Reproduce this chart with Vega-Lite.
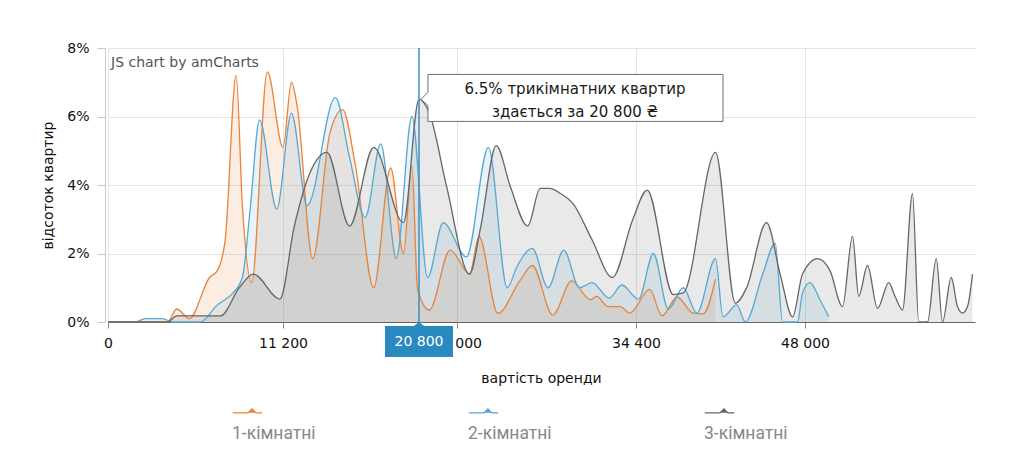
{
  "$schema": "https://vega.github.io/schema/vega-lite/v6.json",
  "width": 872,
  "height": 274,
  "autosize": {"type": "none"},
  "padding": {"left": 105, "top": 48, "right": 32, "bottom": 149},
  "background": "white",
  "config": {
    "view": {"stroke": null},
    "axis": {
      "labelFont": "DejaVu Sans",
      "labelFontSize": 14,
      "labelColor": "#111",
      "titleFont": "DejaVu Sans",
      "titleFontSize": 14,
      "titleFontWeight": "normal",
      "titleColor": "#111",
      "gridColor": "#e4e4e4",
      "gridWidth": 1
    }
  },
  "datasets": {
    "series": [
      {"rooms": "1-кімнатні", "price": 0, "share": 0},
      {"rooms": "1-кімнатні", "price": 3800, "share": 0},
      {"rooms": "1-кімнатні", "price": 4400, "share": 0.38},
      {"rooms": "1-кімнатні", "price": 5200, "share": 0.1},
      {"rooms": "1-кімнатні", "price": 6500, "share": 1.3},
      {"rooms": "1-кімнатні", "price": 7000, "share": 1.5},
      {"rooms": "1-кімнатні", "price": 7500, "share": 2.4},
      {"rooms": "1-кімнатні", "price": 8200, "share": 7.2},
      {"rooms": "1-кімнатні", "price": 8600, "share": 3.4},
      {"rooms": "1-кімнатні", "price": 9200, "share": 1.15},
      {"rooms": "1-кімнатні", "price": 10200, "share": 7.3},
      {"rooms": "1-кімнатні", "price": 11200, "share": 5.1},
      {"rooms": "1-кімнатні", "price": 11800, "share": 7.0},
      {"rooms": "1-кімнатні", "price": 12200, "share": 6.3},
      {"rooms": "1-кімнатні", "price": 13300, "share": 1.85},
      {"rooms": "1-кімнатні", "price": 14500, "share": 5.5},
      {"rooms": "1-кімнатні", "price": 15400, "share": 6.2},
      {"rooms": "1-кімнатні", "price": 16300, "share": 4.6},
      {"rooms": "1-кімнатні", "price": 17600, "share": 1.0},
      {"rooms": "1-кімнатні", "price": 18800, "share": 4.5},
      {"rooms": "1-кімнатні", "price": 19700, "share": 2.0},
      {"rooms": "1-кімнатні", "price": 20300, "share": 4.55},
      {"rooms": "1-кімнатні", "price": 20700, "share": 0.95},
      {"rooms": "1-кімнатні", "price": 21400, "share": 0.35},
      {"rooms": "1-кімнатні", "price": 22600, "share": 2.1},
      {"rooms": "1-кімнатні", "price": 23800, "share": 1.4},
      {"rooms": "1-кімнатні", "price": 24400, "share": 2.5},
      {"rooms": "1-кімнатні", "price": 25600, "share": 0.25},
      {"rooms": "1-кімнатні", "price": 27000, "share": 1.2},
      {"rooms": "1-кімнатні", "price": 27800, "share": 1.65},
      {"rooms": "1-кімнатні", "price": 29100, "share": 0.2},
      {"rooms": "1-кімнатні", "price": 30300, "share": 1.2},
      {"rooms": "1-кімнатні", "price": 31500, "share": 0.65},
      {"rooms": "1-кімнатні", "price": 31900, "share": 0.75},
      {"rooms": "1-кімнатні", "price": 32600, "share": 0.45},
      {"rooms": "1-кімнатні", "price": 33400, "share": 0.45},
      {"rooms": "1-кімнатні", "price": 34000, "share": 0.26},
      {"rooms": "1-кімнатні", "price": 35500, "share": 0.95},
      {"rooms": "1-кімнатні", "price": 36500, "share": 0.18},
      {"rooms": "1-кімнатні", "price": 37700, "share": 0.73},
      {"rooms": "1-кімнатні", "price": 39000, "share": 0.26},
      {"rooms": "1-кімнатні", "price": 39800, "share": 0.24},
      {"rooms": "1-кімнатні", "price": 40800, "share": 1.25},

      {"rooms": "2-кімнатні", "price": 0, "share": 0},
      {"rooms": "2-кімнатні", "price": 1700, "share": 0},
      {"rooms": "2-кімнатні", "price": 2400, "share": 0.1},
      {"rooms": "2-кімнатні", "price": 3500, "share": 0.1},
      {"rooms": "2-кімнатні", "price": 4100, "share": 0},
      {"rooms": "2-кімнатні", "price": 5900, "share": 0},
      {"rooms": "2-кімнатні", "price": 7000, "share": 0.5},
      {"rooms": "2-кімнатні", "price": 8000, "share": 0.85},
      {"rooms": "2-кімнатні", "price": 8600, "share": 1.3},
      {"rooms": "2-кімнатні", "price": 9100, "share": 3.3},
      {"rooms": "2-кімнатні", "price": 9700, "share": 5.9},
      {"rooms": "2-кімнатні", "price": 10800, "share": 3.3},
      {"rooms": "2-кімнатні", "price": 11800, "share": 6.1},
      {"rooms": "2-кімнатні", "price": 12900, "share": 3.4},
      {"rooms": "2-кімнатні", "price": 14900, "share": 6.55},
      {"rooms": "2-кімнатні", "price": 15900, "share": 4.8},
      {"rooms": "2-кімнатні", "price": 17000, "share": 3.05},
      {"rooms": "2-кімнатні", "price": 18100, "share": 5.2},
      {"rooms": "2-кімнатні", "price": 19200, "share": 1.85},
      {"rooms": "2-кімнатні", "price": 20300, "share": 6.0},
      {"rooms": "2-кімнатні", "price": 21300, "share": 1.3},
      {"rooms": "2-кімнатні", "price": 22200, "share": 2.9},
      {"rooms": "2-кімнатні", "price": 23600, "share": 1.9},
      {"rooms": "2-кімнатні", "price": 25000, "share": 5.1},
      {"rooms": "2-кімнатні", "price": 26200, "share": 1.0},
      {"rooms": "2-кімнатні", "price": 26800, "share": 1.6},
      {"rooms": "2-кімнатні", "price": 27800, "share": 2.15},
      {"rooms": "2-кімнатні", "price": 28800, "share": 1.0},
      {"rooms": "2-кімнатні", "price": 29800, "share": 2.1},
      {"rooms": "2-кімнатні", "price": 30800, "share": 1.0},
      {"rooms": "2-кімнатні", "price": 31600, "share": 1.15},
      {"rooms": "2-кімнатні", "price": 32700, "share": 0.7},
      {"rooms": "2-кімнатні", "price": 33500, "share": 1.08},
      {"rooms": "2-кімнатні", "price": 34600, "share": 0.67},
      {"rooms": "2-кімнатні", "price": 35800, "share": 2.0},
      {"rooms": "2-кімнатні", "price": 37000, "share": 0.38},
      {"rooms": "2-кімнатні", "price": 38200, "share": 1.0},
      {"rooms": "2-кімнатні", "price": 39300, "share": 0.26},
      {"rooms": "2-кімнатні", "price": 40800, "share": 1.85},
      {"rooms": "2-кімнатні", "price": 41400, "share": 0.15},
      {"rooms": "2-кімнатні", "price": 42500, "share": 0.5},
      {"rooms": "2-кімнатні", "price": 43200, "share": 0},
      {"rooms": "2-кімнатні", "price": 44600, "share": 1.4},
      {"rooms": "2-кімнатні", "price": 45600, "share": 2.3},
      {"rooms": "2-кімнатні", "price": 46200, "share": 0},
      {"rooms": "2-кімнатні", "price": 47400, "share": 0},
      {"rooms": "2-кімнатні", "price": 47800, "share": 0.85},
      {"rooms": "2-кімнатні", "price": 48400, "share": 1.15},
      {"rooms": "2-кімнатні", "price": 49200, "share": 0.65},
      {"rooms": "2-кімнатні", "price": 49900, "share": 0.15},

      {"rooms": "3-кімнатні", "price": 0, "share": 0},
      {"rooms": "3-кімнатні", "price": 3800, "share": 0},
      {"rooms": "3-кімнатні", "price": 4400, "share": 0.18},
      {"rooms": "3-кімнатні", "price": 7200, "share": 0.18},
      {"rooms": "3-кімнатні", "price": 8400, "share": 1.0},
      {"rooms": "3-кімнатні", "price": 9300, "share": 1.4},
      {"rooms": "3-кімнатні", "price": 11000, "share": 0.67},
      {"rooms": "3-кімнатні", "price": 12000, "share": 2.8},
      {"rooms": "3-кімнатні", "price": 13100, "share": 4.35},
      {"rooms": "3-кімнатні", "price": 14300, "share": 4.95},
      {"rooms": "3-кімнатні", "price": 15900, "share": 2.8},
      {"rooms": "3-кімнатні", "price": 17600, "share": 5.1},
      {"rooms": "3-кімнатні", "price": 19700, "share": 2.9},
      {"rooms": "3-кімнатні", "price": 20800, "share": 6.5},
      {"rooms": "3-кімнатні", "price": 21400, "share": 6.1},
      {"rooms": "3-кімнатні", "price": 22400, "share": 3.95},
      {"rooms": "3-кімнатні", "price": 23800, "share": 1.4},
      {"rooms": "3-кімнатні", "price": 24500, "share": 2.75},
      {"rooms": "3-кімнатні", "price": 25500, "share": 5.15},
      {"rooms": "3-кімнатні", "price": 26400, "share": 3.95},
      {"rooms": "3-кімнатні", "price": 27500, "share": 2.8},
      {"rooms": "3-кімнатні", "price": 28300, "share": 3.9},
      {"rooms": "3-кімнатні", "price": 28900, "share": 3.9},
      {"rooms": "3-кімнатні", "price": 29600, "share": 3.75},
      {"rooms": "3-кімнатні", "price": 30400, "share": 3.45},
      {"rooms": "3-кімнатні", "price": 31600, "share": 2.4},
      {"rooms": "3-кімнатні", "price": 32900, "share": 1.3},
      {"rooms": "3-кімнатні", "price": 34200, "share": 3.0},
      {"rooms": "3-кімнатні", "price": 35300, "share": 3.85},
      {"rooms": "3-кімнатні", "price": 37400, "share": 0.8},
      {"rooms": "3-кімнатні", "price": 38200, "share": 0.85},
      {"rooms": "3-кімнатні", "price": 40800, "share": 4.95},
      {"rooms": "3-кімнатні", "price": 42400, "share": 0.55},
      {"rooms": "3-кімнатні", "price": 43300, "share": 1.0},
      {"rooms": "3-кімнатні", "price": 44900, "share": 2.9},
      {"rooms": "3-кімнатні", "price": 46000, "share": 1.4},
      {"rooms": "3-кімнатні", "price": 47000, "share": 0.15},
      {"rooms": "3-кімнатні", "price": 47800, "share": 1.4},
      {"rooms": "3-кімнатні", "price": 49000, "share": 1.85},
      {"rooms": "3-кімнатні", "price": 50000, "share": 1.5},
      {"rooms": "3-кімнатні", "price": 51000, "share": 0.45},
      {"rooms": "3-кімнатні", "price": 51800, "share": 2.5},
      {"rooms": "3-кімнатні", "price": 52300, "share": 0.75},
      {"rooms": "3-кімнатні", "price": 53000, "share": 1.65},
      {"rooms": "3-кімнатні", "price": 53800, "share": 0.4},
      {"rooms": "3-кімнатні", "price": 54700, "share": 1.15},
      {"rooms": "3-кімнатні", "price": 55200, "share": 0.75},
      {"rooms": "3-кімнатні", "price": 55800, "share": 0.35},
      {"rooms": "3-кімнатні", "price": 56600, "share": 3.75},
      {"rooms": "3-кімнатні", "price": 57100, "share": 0},
      {"rooms": "3-кімнатні", "price": 57800, "share": 0},
      {"rooms": "3-кімнатні", "price": 58500, "share": 1.85},
      {"rooms": "3-кімнатні", "price": 59000, "share": 0},
      {"rooms": "3-кімнатні", "price": 59700, "share": 1.3},
      {"rooms": "3-кімнатні", "price": 60200, "share": 0.45},
      {"rooms": "3-кімнатні", "price": 60600, "share": 0.26},
      {"rooms": "3-кімнатні", "price": 61000, "share": 0.45},
      {"rooms": "3-кімнатні", "price": 61400, "share": 1.4}
    ],
    "cursor": [
      {"price": 20800, "share": 0, "top": 8, "label": "20 800"}
    ],
    "tip": [
      {"price": 20800, "share": 6.5, "line1": "6.5% трикімнатних квартир", "line2": "здається за 20 800 ₴"}
    ],
    "credit": [
      {"price": 0, "share": 8, "label": "JS chart by amCharts"}
    ]
  },
  "encoding": {
    "x": {
      "field": "price",
      "type": "quantitative",
      "scale": {
        "domain": [0, 11200, 20800, 23000, 34400, 48000, 61600],
        "range": [3, 178, 314, 352, 531, 700, 870],
        "nice": false,
        "zero": false
      },
      "axis": {
        "title": "вартість оренди",
        "values": [0, 11200, 23000, 34400, 48000],
        "labelExpr": "replace(format(datum.value, ','), ',', ' ')",
        "labelFlush": false,
        "grid": true,
        "domainColor": "#666",
        "tickColor": "#888",
        "tickSize": 6,
        "labelPadding": 8,
        "titleX": 436,
        "titleY": 56,
        "titleBaseline": "middle"
      }
    },
    "y": {
      "field": "share",
      "type": "quantitative",
      "stack": null,
      "scale": {"domain": [0, 8], "nice": false},
      "axis": {
        "title": "відсоток квартир",
        "values": [0, 2, 4, 6, 8],
        "labelExpr": "datum.value + '%'",
        "grid": true,
        "domainColor": "#c8c8c8",
        "tickColor": "#c8c8c8",
        "tickSize": 8,
        "labelPadding": 8,
        "titleX": -57,
        "titleY": 137,
        "titleAngle": -90,
        "titleAlign": "center",
        "titleBaseline": "middle"
      }
    },
    "color": {
      "field": "rooms",
      "type": "nominal",
      "scale": {
        "domain": ["1-кімнатні", "2-кімнатні", "3-кімнатні"],
        "range": ["#E8833A", "#57A8D2", "#666666"]
      },
      "legend": {
        "title": null,
        "orient": "none",
        "legendX": 127,
        "legendY": 370,
        "direction": "horizontal",
        "columns": 3,
        "padding": 0,
        "columnPadding": 150,
        "symbolType": "M-1,-1.4L0.03,-1.4L0.3,-1.67L0.57,-1.4L1,-1.4",
        "symbolSize": 870,
        "symbolStrokeWidth": 1.3,
        "labelOffset": -31,
        "labelFont": "Roboto",
        "labelFontSize": 17.5,
        "labelColor": "#888888",
        "encode": {
          "symbols": {
            "update": {
              "fill": {"value": "transparent"},
              "stroke": {"scale": "color", "field": "value"},
              "strokeWidth": {"value": 1.3},
              "opacity": {"value": 1}
            }
          }
        }
      }
    }
  },
  "layer": [
    {
      "data": {"name": "series"},
      "mark": {"type": "area", "interpolate": "monotone", "fillOpacity": 0.14}
    },
    {
      "data": {"name": "series"},
      "mark": {"type": "line", "interpolate": "monotone", "strokeWidth": 1.3}
    },
    {
      "data": {"name": "cursor"},
      "mark": {"type": "rule", "strokeWidth": 1.5},
      "encoding": {
        "y2": {"field": "top"},
        "color": {"value": "#3d8fc0"}
      }
    },
    {
      "data": {"name": "tip"},
      "mark": {
        "type": "point",
        "shape": "M0.059,-0.164L2,-0.164L2,0.145L0.059,0.145L0.059,0.04L0.013,0L0.059,-0.046Z",
        "size": 92416,
        "filled": true,
        "fill": "white",
        "stroke": "#6f6f6f",
        "strokeWidth": 1,
        "opacity": 1
      },
      "encoding": {"color": {"value": "white"}}
    },
    {
      "data": {"name": "tip"},
      "mark": {"type": "text", "font": "DejaVu Sans", "fontSize": 15, "align": "center", "baseline": "middle", "dx": 156, "dy": -10},
      "encoding": {"text": {"field": "line1"}, "color": {"value": "#1a1a1a"}}
    },
    {
      "data": {"name": "tip"},
      "mark": {"type": "text", "font": "DejaVu Sans", "fontSize": 15, "align": "center", "baseline": "middle", "dx": 156, "dy": 13},
      "encoding": {"text": {"field": "line2"}, "color": {"value": "#1a1a1a"}}
    },
    {
      "data": {"name": "cursor"},
      "mark": {
        "type": "point",
        "shape": "M-1,0.12L-0.15,0.12L0,0L0.15,0.12L1,0.12L1,1.03L-1,1.03Z",
        "size": 4624,
        "filled": true,
        "strokeWidth": 0,
        "opacity": 1
      },
      "encoding": {"color": {"value": "#2a8abf"}}
    },
    {
      "data": {"name": "cursor"},
      "mark": {"type": "text", "font": "DejaVu Sans", "fontSize": 14, "align": "center", "baseline": "middle", "dy": 20},
      "encoding": {"text": {"field": "label"}, "color": {"value": "white"}}
    },
    {
      "data": {"name": "credit"},
      "mark": {"type": "text", "font": "DejaVu Sans", "fontSize": 14, "align": "left", "baseline": "middle", "dx": 3, "dy": 15},
      "encoding": {"text": {"field": "label"}, "color": {"value": "#555555"}}
    }
  ]
}
